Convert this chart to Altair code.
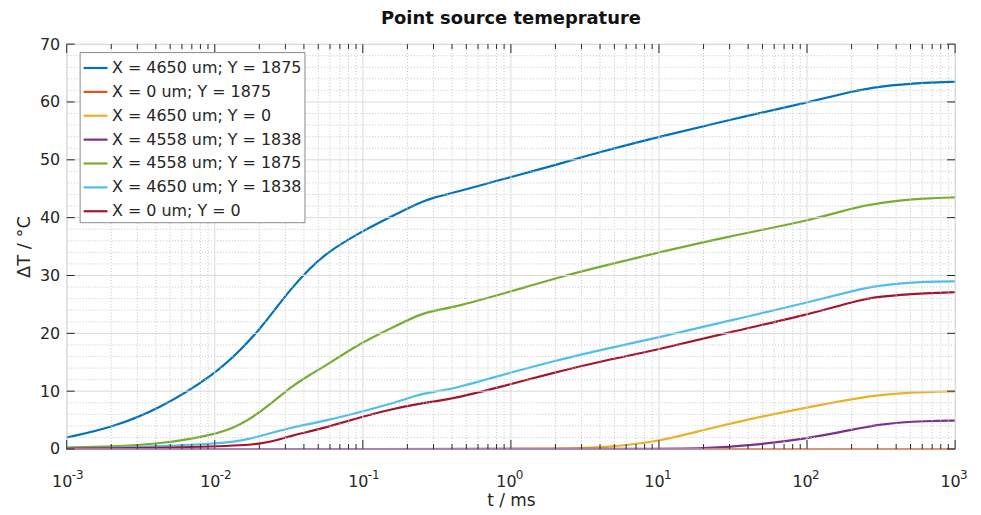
import altair as alt
import pandas as pd

# ---------------- data ----------------
series = [
    "X = 4650 um; Y = 1875",
    "X = 0 um; Y = 1875",
    "X = 4650 um; Y = 0",
    "X = 4558 um; Y = 1838",
    "X = 4558 um; Y = 1875",
    "X = 4650 um; Y = 1838",
    "X = 0 um; Y = 0",
]
colors = ["#0072BD", "#D95319", "#EDB120", "#7E2F8E", "#77AC30", "#4DBEEE", "#A2142F"]

t_main = [0.001, 0.002, 0.0042, 0.01, 0.015, 0.02, 0.026, 0.033, 0.043, 0.056,
          0.093, 0.156, 0.236, 0.3, 0.44, 0.81, 1.34, 2.27, 3.8, 10,
          30, 100, 200, 300, 660, 1000]
blue_vals = [2.0, 3.7, 6.9, 12.9, 17.2, 20.6, 24.4, 27.8, 31.0, 33.8,
             37.3, 40.2, 42.5, 43.5, 44.5, 46.4, 47.9, 49.5, 51.2, 54.0,
             56.9, 59.9, 61.8, 62.7, 63.4, 63.5]
orange_vals = [0.0] * 26
green_vals = [0.25, 0.4, 0.86, 2.4, 4.2, 6.3, 8.6, 10.8, 12.7, 14.4,
              18.1, 20.9, 23.2, 23.9, 24.7, 26.6, 28.2, 29.9, 31.4, 34.0,
              36.8, 39.4, 41.6, 42.6, 43.4, 43.5]
lightblue_vals = [0.1, 0.2, 0.5, 0.9, 1.4, 2.2, 3.0, 3.7, 4.3, 4.9,
                  6.3, 7.8, 9.4, 9.9, 10.6, 12.6, 14.1, 15.6, 17.0, 19.3,
                  22.2, 25.3, 27.3, 28.3, 29.0, 29.0]
red_vals = [0.05, 0.1, 0.2, 0.45, 0.65, 0.86, 1.5, 2.3, 3.0, 3.7,
            5.4, 6.9, 7.8, 8.2, 8.9, 10.6, 12.1, 13.6, 15.0, 17.2,
            20.2, 23.2, 25.4, 26.4, 27.0, 27.1]

t_yellow = [0.001, 1, 2, 4.6, 10, 20, 41, 100, 300, 660, 1000]
yellow_vals = [0.0, 0.0, 0.05, 0.3, 1.3, 3.3, 5.2, 7.2, 9.5, 9.9, 9.95]

t_purple = [0.001, 10, 20, 41, 100, 200, 300, 660, 1000]
purple_vals = [0.0, 0.0, 0.1, 0.6, 1.8, 3.3, 4.3, 4.9, 4.9]

x_decades = [0.001, 0.01, 0.1, 1, 10, 100, 1000]
x_exponents = ["-3", "-2", "-1", "0", "1", "2", "3"]
x_minor = [k * d for d in x_decades[:-1] for k in range(2, 10)]
y_major = [0, 10, 20, 30, 40, 50, 60, 70]
y_minor = [v for v in range(0, 71, 2) if v % 10]

# ---------------- tables ----------------
parts = [
    (series[0], t_main, blue_vals),
    (series[1], t_main, orange_vals),
    (series[2], t_yellow, yellow_vals),
    (series[3], t_purple, purple_vals),
    (series[4], t_main, green_vals),
    (series[5], t_main, lightblue_vals),
    (series[6], t_main, red_vals),
]
rows = []
for order, (name, ts, vs) in enumerate(parts):
    for t, v in zip(ts, vs):
        rows.append({"series": name, "t": t, "dT": v, "order": order})
df = pd.DataFrame(rows)

W, H = 893, 407
FONT = "DejaVu Sans"
TXT = "#262626"

xs = alt.Scale(type="log", domain=[0.001, 1000], nice=False)
ys = alt.Scale(domain=[0, 70], nice=False, zero=False)

x_axis = alt.Axis(values=x_decades, labelExpr="'10'", grid=False, ticks=False, domain=False,
                  labelFont=FONT, labelFontSize=16, labelColor=TXT,
                  labelPadding=25, labelOffset=-5, labelFlush=False,
                  title="t / ms", titleFont=FONT, titleFontSize=17,
                  titleFontWeight="normal", titleColor=TXT, titlePadding=3)
y_axis = alt.Axis(values=y_major, grid=False, ticks=False, domain=False,
                  labelFont=FONT, labelFontSize=16, labelColor=TXT,
                  labelPadding=7,
                  title="ΔT / °C", titleFont=FONT, titleFontSize=18,
                  titleFontWeight="normal", titleColor=TXT, titlePadding=6)

xmin_df = pd.DataFrame({"v": x_minor})
xmaj_df = pd.DataFrame({"v": x_decades, "e": x_exponents})
ymin_df = pd.DataFrame({"v": y_minor})
ymaj_df = pd.DataFrame({"v": y_major})


def X(field):
    return alt.X(field, scale=xs, axis=x_axis)


def Y(field):
    return alt.Y(field, scale=ys, axis=y_axis)


minor_x_grid = alt.Chart(xmin_df).mark_rule(color="#c6c6c6", strokeDash=[1, 2], strokeWidth=1).encode(
    x=X("v:Q"))
minor_y_grid = alt.Chart(ymin_df).mark_rule(color="#c6c6c6", strokeDash=[1, 2], strokeWidth=1).encode(
    y=Y("v:Q"))
major_x_grid = alt.Chart(xmaj_df).mark_rule(color="#dadada", strokeWidth=1).encode(x=X("v:Q"))
major_y_grid = alt.Chart(ymaj_df).mark_rule(color="#dadada", strokeWidth=1).encode(y=Y("v:Q"))

lines = alt.Chart(df).mark_line(strokeWidth=2.2, interpolate="basis").encode(
    x=X("t:Q"),
    y=Y("dT:Q"),
    color=alt.Color("series:N",
                    scale=alt.Scale(domain=series, range=colors),
                    legend=alt.Legend(title=None, orient="none", legendX=13, legendY=8,
                                      symbolType="stroke", symbolSize=576, symbolStrokeWidth=2.2,
                                      labelFont=FONT, labelFontSize=16, labelColor=TXT,
                                      labelOffset=3, rowPadding=2, padding=2.5,
                                      fillColor="white", strokeColor="#8a8a8a",
                                      labelLimit=400)),
    order=alt.Order("order:Q"),
    detail="series:N",
)

exps = alt.Chart(xmaj_df).mark_text(align="left", baseline="alphabetic", fontSize=12,
                                    font=FONT, color=TXT, dx=5).encode(
    x=X("v:Q"), y=alt.value(437), text="e:N")

xt_bot = alt.Chart(xmaj_df).mark_rule(color=TXT).encode(
    x=X("v:Q"), y=alt.value(H), y2=alt.value(H - 9))
xt_top = alt.Chart(xmaj_df).mark_rule(color=TXT).encode(
    x=X("v:Q"), y=alt.value(0), y2=alt.value(9))
xmt_bot = alt.Chart(xmin_df).mark_rule(color=TXT).encode(
    x=X("v:Q"), y=alt.value(H), y2=alt.value(H - 5))
xmt_top = alt.Chart(xmin_df).mark_rule(color=TXT).encode(
    x=X("v:Q"), y=alt.value(0), y2=alt.value(5))
yt_left = alt.Chart(ymaj_df).mark_rule(color=TXT).encode(
    y=Y("v:Q"), x=alt.value(0), x2=alt.value(8))
yt_right = alt.Chart(ymaj_df).mark_rule(color=TXT).encode(
    y=Y("v:Q"), x=alt.value(W), x2=alt.value(W - 8))

chart = alt.layer(
    lines, minor_x_grid, minor_y_grid, major_x_grid, major_y_grid,
    exps, xt_bot, xt_top, xmt_bot, xmt_top, yt_left, yt_right,
).properties(
    width=W, height=H,
    title=alt.TitleParams("Point source temeprature", font=FONT, fontSize=18,
                          fontWeight="bold", color="#111111", anchor="middle",
                          offset=8),
    autosize=alt.AutoSizeParams(type="none"),
    padding={"left": 59, "top": 35, "right": 18, "bottom": 64},
).configure_view(stroke="#3a3a3a", strokeWidth=1).configure(background="white")

chart.save("out.html", embed_options={"renderer": "svg", "actions": False})
